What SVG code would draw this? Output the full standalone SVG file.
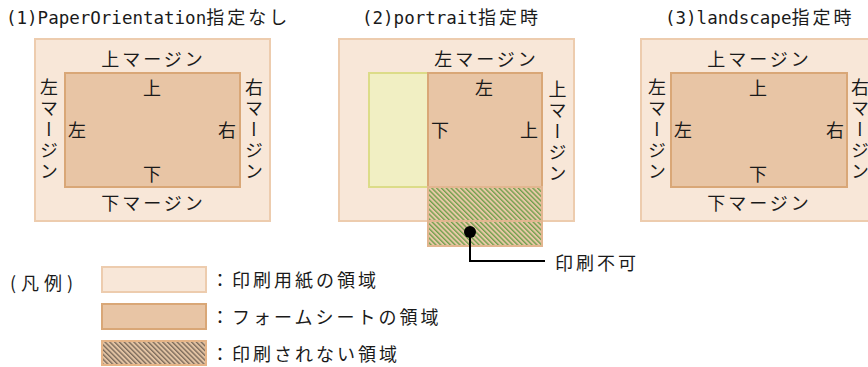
<svg xmlns="http://www.w3.org/2000/svg" width="868" height="367" viewBox="0 0 868 367">
<style>
.bg{fill:#ffffff}
.paper{fill:#F8E7D8;stroke:#EDCCAE;stroke-width:2}
.form{fill:#E8C5A5;stroke:#D9A777;stroke-width:2}
.yellow{fill:#F1EFC3;stroke:#DCDC88;stroke-width:2}
.nop{fill:url(#hatchG);stroke:#E2B690;stroke-width:2}
.lgnop{fill:url(#hatchB);stroke:#E6B486;stroke-width:2}
.t{font-family:'Noto Sans CJK JP','Noto Sans CJK SC',sans-serif;font-size:18px;fill:#1a1a1a;letter-spacing:3px}
.c{text-anchor:middle;dominant-baseline:central}
.l{dominant-baseline:central}
.v{writing-mode:vertical-rl;text-anchor:start}
.mono{font-family:'DejaVu Sans Mono','Liberation Mono',monospace;font-size:17.5px;letter-spacing:0}
.conn{fill:none;stroke:#000;stroke-width:2}
</style>
<defs>
<pattern id="hatchG" patternUnits="userSpaceOnUse" width="4" height="3.4" patternTransform="rotate(45)">
<rect width="4" height="3.4" fill="#E8C8A6"/>
<line x1="0" y1="1" x2="4" y2="1" stroke="#5E9A3E" stroke-width="1.2"/>
</pattern>
<pattern id="hatchB" patternUnits="userSpaceOnUse" width="4" height="3.4" patternTransform="rotate(45)">
<rect width="4" height="3.4" fill="#E2C3A3"/>
<line x1="0" y1="1" x2="4" y2="1" stroke="#6E5E50" stroke-width="1.2"/>
</pattern>
</defs>
<rect class="bg" x="0" y="0" width="868" height="367"/>

<g id="title1"><text class="t" x="6" y="24"><tspan class="mono">(1)PaperOrientation</tspan><tspan>指定なし</tspan></text></g>
<g id="title2"><text class="t" x="362" y="24"><tspan class="mono">(2)portrait</tspan><tspan>指定時</tspan></text></g>
<g id="title3"><text class="t" x="665" y="24"><tspan class="mono">(3)landscape</tspan><tspan>指定時</tspan></text></g>

<g id="panel1">
<rect class="paper" x="35" y="39" width="235" height="182"/>
<rect class="form" x="65" y="73" width="175" height="114"/>
<text class="t c" x="153.5" y="58">上マージン</text>
<text class="t c" x="153.5" y="202">下マージン</text>
<text class="t v" x="49" y="78">左マージン</text>
<text class="t v" x="254" y="78">右マージン</text>
<text class="t c" x="153.5" y="87">上</text>
<text class="t c" x="153.5" y="173">下</text>
<text class="t c" x="78.5" y="129">左</text>
<text class="t c" x="228.5" y="129">右</text>
</g>

<g id="panel2">
<rect class="paper" x="339" y="39" width="235" height="182"/>
<rect class="yellow" x="369" y="73" width="59" height="114"/>
<rect class="form" x="428" y="73" width="114" height="114"/>
<rect class="nop" x="428" y="187" width="114" height="59"/>
<line x1="428" y1="221" x2="542" y2="221" stroke="#E2B690" stroke-width="2"/>
<text class="t c" x="486.5" y="58">左マージン</text>
<text class="t v" x="557.5" y="80">上マージン</text>
<text class="t c" x="485.5" y="87">左</text>
<text class="t c" x="441.5" y="129">下</text>
<text class="t c" x="530.5" y="129">上</text>
</g>

<g id="panel3">
<rect class="paper" x="641" y="39" width="240" height="182"/>
<rect class="form" x="671" y="73" width="176" height="114"/>
<text class="t c" x="759.5" y="58">上マージン</text>
<text class="t c" x="759.5" y="202">下マージン</text>
<text class="t v" x="657" y="78">左マージン</text>
<text class="t v" x="860" y="78">右マージン</text>
<text class="t c" x="759.5" y="87">上</text>
<text class="t c" x="759.5" y="173">下</text>
<text class="t c" x="684.5" y="129">左</text>
<text class="t c" x="836.5" y="129">右</text>
</g>

<g id="connectors">
<circle cx="470" cy="232" r="6" fill="#000"/>
<polyline class="conn" points="470,232 470,261 545,261"/>
</g>
<g id="label-noprint"><text class="t l" x="555" y="262">印刷不可</text></g>

<g id="legend">
<text class="t l" x="10" y="282" textLength="63" lengthAdjust="spacing" style="letter-spacing:0">(凡例)</text>
<g id="legend-paper">
<rect class="paper" x="102" y="267" width="104" height="25"/>
<text class="t l" x="211" y="279">：印刷用紙の領域</text>
</g>
<g id="legend-form">
<rect class="form" x="102" y="304" width="104" height="25"/>
<text class="t l" x="211" y="316">：フォームシートの領域</text>
</g>
<g id="legend-noprint">
<rect class="lgnop" x="102" y="341" width="104" height="24"/>
<text class="t l" x="211" y="353">：印刷されない領域</text>
</g>
</g>
</svg>
